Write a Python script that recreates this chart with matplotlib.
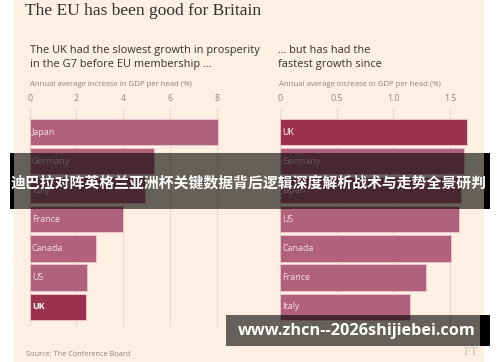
import matplotlib
matplotlib.use("Agg")
import matplotlib.pyplot as plt
from matplotlib.patches import Rectangle

W, H = 500, 362
DPI = 100

# ---- data ----
left_categories = ["Japan", "Germany", "Italy", "France", "Canada", "US", "UK"]
left_values = [8.03, 5.33, 4.94, 4.0, 2.82, 2.47, 2.42]
right_categories = ["UK", "Germany", "Japan", "US", "Canada", "France", "Italy"]
right_values = [1.65, 1.62, 1.60, 1.58, 1.51, 1.29, 1.15]
left_ticks = [0, 2, 4, 6, 8]
left_ticklabels = ["0", "2", "4", "6", "8"]
right_ticks = [0, 0.5, 1.0, 1.5]
right_ticklabels = ["0", "0.5", "1.0", "1.5"]

title = "The EU has been good for Britain"
left_sub = "The UK had the slowest growth in prosperity\nin the G7 before EU membership ..."
right_sub = "... but has had the\nfastest growth since"
unit_note = "Annual average increase in GDP per head (%)"
source = "Source: The Conference Board"
banner = "迪巴拉对阵英格兰亚洲杯关键数据背后逻辑深度解析战术与走势全景研判"
url = "www.zhcn--2026shijiebei.com"

BG = "#fdf0e2"
BAR = "#b1627b"
UKC = "#9b3150"
GRID = "#eadbcd"
GREY = "#8c837b"
TXT = "#33302e"

fig = plt.figure(figsize=(W / DPI, H / DPI), dpi=DPI, facecolor="white")


def fx(x):
    return x / W


def fy(y):
    return 1 - y / H


def box(x0, y0, x1, y1):
    return [fx(x0), fy(y1), fx(x1) - fx(x0), fy(y0) - fy(y1)]


# beige panel
fig.patches.append(Rectangle((fx(14), 0), fx(484) - fx(14), 1, transform=fig.transFigure,
                             facecolor=BG, edgecolor="none", zorder=-5))


def panel(rect, cats, vals, xlim, ticks, ticklabels, uk_bold):
    ax = fig.add_axes(rect)
    ax.set_facecolor("none")
    n = len(cats)
    ypos = list(range(n))
    colors = [UKC if c == "UK" else BAR for c in cats]
    ax.barh(ypos, vals, height=0.9, color=colors, edgecolor="#f2c7d0", linewidth=0.6,
            zorder=2, clip_on=False)
    ax.set_ylim(n - 0.5, -0.5)
    ax.set_xlim(*xlim)
    for t in ticks:
        ax.plot([t, t], [-0.75, n - 0.35], color=GRID, lw=0.8, zorder=1, clip_on=False)
    ax.set_xticks([])
    ax.set_yticks([])
    for s in ax.spines.values():
        s.set_visible(False)
    for yv, c in zip(ypos, cats):
        if c == "UK":
            ax.text(xlim[1] * 0.012, yv, c, color="white", fontsize=6.4,
                    fontweight="bold" if uk_bold else "normal",
                    va="center", ha="left", family="Open Sans", zorder=3)
        else:
            ax.text(xlim[1] * 0.012, yv, c, color="#f6dde3", fontsize=6.4,
                    va="center", ha="left", family="Open Sans", zorder=3)
    for t, lab in zip(ticks, ticklabels):
        ax.text(t, -1.15, lab, color=GREY, fontsize=6.3, ha="center", va="center",
                family="Open Sans")
    return ax


# axes pixel geometry: 7 bars, pitch 29.1 px, top 117.5
top, bot = 117.5, 117.5 + 7 * 29.1
panel(box(29.6, top, 29.6 + 23.4 * 8.0, bot), left_categories, left_values, (0, 8.0),
      left_ticks, left_ticklabels, True)
panel(box(280, top, 280 + 113.3 * 1.68, bot), right_categories, right_values, (0, 1.68),
      right_ticks, right_ticklabels, False)

# texts
fig.text(fx(25), fy(11), title, fontsize=12.5, family="Liberation Serif", color=TXT,
         ha="left", va="center")
fig.text(fx(30), fy(57.5), left_sub, fontsize=7.95, family="Open Sans", color=TXT,
         ha="left", va="center", linespacing=1.3)
fig.text(fx(278), fy(57.5), right_sub, fontsize=7.95, family="Open Sans", color=TXT,
         ha="left", va="center", linespacing=1.3)
fig.text(fx(30), fy(85), unit_note, fontsize=5.6, family="Open Sans", color=GREY,
         ha="left", va="center")
fig.text(fx(279), fy(85), unit_note, fontsize=5.6, family="Open Sans", color=GREY,
         ha="left", va="center")
fig.text(fx(26), fy(355), source, fontsize=5.3, family="Open Sans", color=GREY,
         ha="left", va="center")
fig.text(fx(471), fy(352), "FT", fontsize=9, family="Liberation Serif", color="#cfc3b8",
         ha="center", va="center")

# watermark band
fig.patches.append(Rectangle((fx(10), fy(209)), fx(490) - fx(10), fy(153) - fy(209),
                             transform=fig.transFigure, facecolor="black", alpha=0.6,
                             edgecolor="none", zorder=10))
for a, b in [(10, 14), (484, 490)]:
    fig.patches.append(Rectangle((fx(a), fy(209)), fx(b) - fx(a), fy(153) - fy(209),
                                 transform=fig.transFigure, facecolor="black",
                                 edgecolor="none", zorder=11))
fig.text(fx(249), fy(183), banner, fontsize=10.7, fontweight="bold", color="white",
         family=["Noto Sans CJK SC", "DejaVu Sans"], ha="center", va="center", zorder=12)

# url box
fig.patches.append(Rectangle((fx(226), fy(346)), fx(480) - fx(226), fy(315) - fy(346),
                             transform=fig.transFigure, facecolor="black", alpha=0.6,
                             edgecolor="none", zorder=10))
fig.patches.append(Rectangle((fx(480), fy(346)), fx(490) - fx(480), fy(315) - fy(346),
                             transform=fig.transFigure, facecolor="black",
                             edgecolor="none", zorder=11))
fig.text(fx(357), fy(331), url, fontsize=11.7, fontweight="bold", color="white",
         family="Open Sans", ha="center", va="center", zorder=12)

fig.savefig("out.png", dpi=DPI, facecolor="white")
